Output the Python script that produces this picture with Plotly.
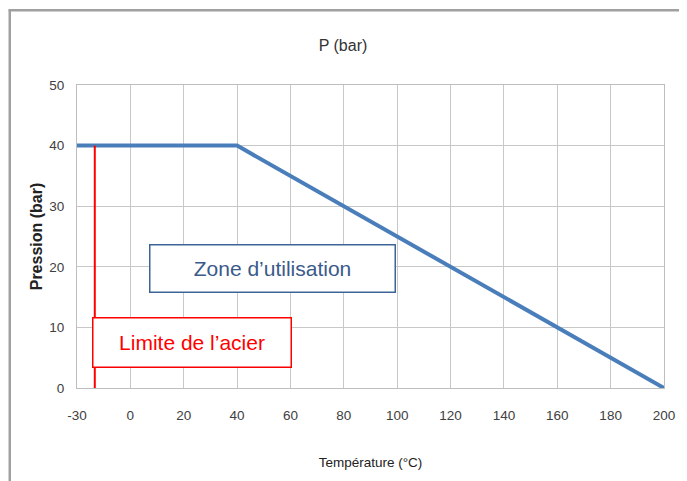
import plotly.graph_objects as go

# Data
temp_ticks = [-30, 0, 20, 40, 60, 80, 100, 120, 140, 160, 180, 200]
tick_labels = [str(t) for t in temp_ticks]
curve_temp = [-30, 40, 200]
curve_pres = [40, 40, 0]
steel_temp = [-20, -20]
steel_pres = [40, -0.6]

# Category-like axis: each tick label is evenly spaced (Excel-style)
def pos(t):
    for i in range(len(temp_ticks) - 1):
        a, b = temp_ticks[i], temp_ticks[i + 1]
        if a <= t <= b:
            return i + (t - a) / (b - a)
    return len(temp_ticks) - 1

FONT = "Liberation Sans, Arial, sans-serif"

W, H = 679, 473
L, R, T, B = 69, 19, 77, 93
PW, PH = W - L - R, H - T - B

fig = go.Figure()
fig.add_trace(go.Scatter(
    x=[pos(t) for t in curve_temp], y=curve_pres, mode="lines",
    line=dict(color="#4A7EBB", width=4), showlegend=False, hoverinfo="skip"))
fig.add_trace(go.Scatter(
    x=[pos(t) for t in steel_temp], y=steel_pres, mode="lines",
    line=dict(color="#FF0000", width=2), showlegend=False, cliponaxis=False,
    hoverinfo="skip"))

fig.update_layout(
    width=W, height=H,
    margin=dict(l=L, r=R, t=T, b=B),
    paper_bgcolor="white", plot_bgcolor="white",
    font=dict(family=FONT, color="#404040", size=13),
    title=dict(text="P (bar)", x=335 / W, xanchor="center",
               y=1 - 37 / H, yanchor="middle",
               font=dict(family=FONT, size=16, color="#333333")),
    xaxis=dict(range=[0, len(temp_ticks) - 1], tickmode="array",
               tickvals=list(range(len(temp_ticks))), ticktext=tick_labels,
               showgrid=True, gridcolor="#C8C8C8", gridwidth=1,
               showline=True, linecolor="#BEBEBE", mirror=True,
               zeroline=False, ticks="", ticklabelstandoff=15,
               tickfont=dict(family=FONT, size=13.5, color="#404040"),
               title=dict(text="Température (°C)", standoff=35,
                          font=dict(family=FONT, size=13.5, color="#222222"))),
    yaxis=dict(range=[0, 50], tickvals=[0, 10, 20, 30, 40, 50],
               showgrid=True, gridcolor="#C8C8C8", gridwidth=1,
               showline=True, linecolor="#BEBEBE", mirror=True,
               zeroline=False, ticks="", ticklabelstandoff=9,
               tickfont=dict(family=FONT, size=13.5, color="#404040"),
               title=dict(text="<b>Pression (bar)</b>", standoff=2,
                          font=dict(family=FONT, size=16, color="#222222"))),
    annotations=[
        dict(text="Zone d’utilisation", xref="paper", yref="paper",
             x=(274 - 77) / PW, y=(388 - 268) / PH, showarrow=False,
             xanchor="center", yanchor="middle", width=242, height=44,
             bordercolor="#3C6496", borderwidth=1.5, borderpad=1, bgcolor="white",
             font=dict(family=FONT, size=21, color="#3A5A8A")),
        dict(text="Limite de l’acier", xref="paper", yref="paper",
             x=(192.5 - 77) / PW, y=(388 - 342) / PH, showarrow=False,
             xanchor="center", yanchor="middle", width=195, height=46,
             bordercolor="#FF0000", borderwidth=1.5, borderpad=1, bgcolor="white",
             font=dict(family=FONT, size=21, color="#FF0000")),
    ],
    shapes=[
        dict(type="line", xref="paper", yref="paper", x0=-L / PW, x1=(W - L) / PW,
             y0=(PH + T - 2.2) / PH, y1=(PH + T - 2.2) / PH,
             line=dict(color="#A0A0A0", width=2.5)),
        dict(type="line", xref="paper", yref="paper", x0=-(L - 1.3) / PW, x1=-(L - 1.3) / PW,
             y0=(PH + T - 2.2) / PH, y1=-B / PH,
             line=dict(color="#A0A0A0", width=2.5)),
    ],
)

fig.write_html("out.html")
